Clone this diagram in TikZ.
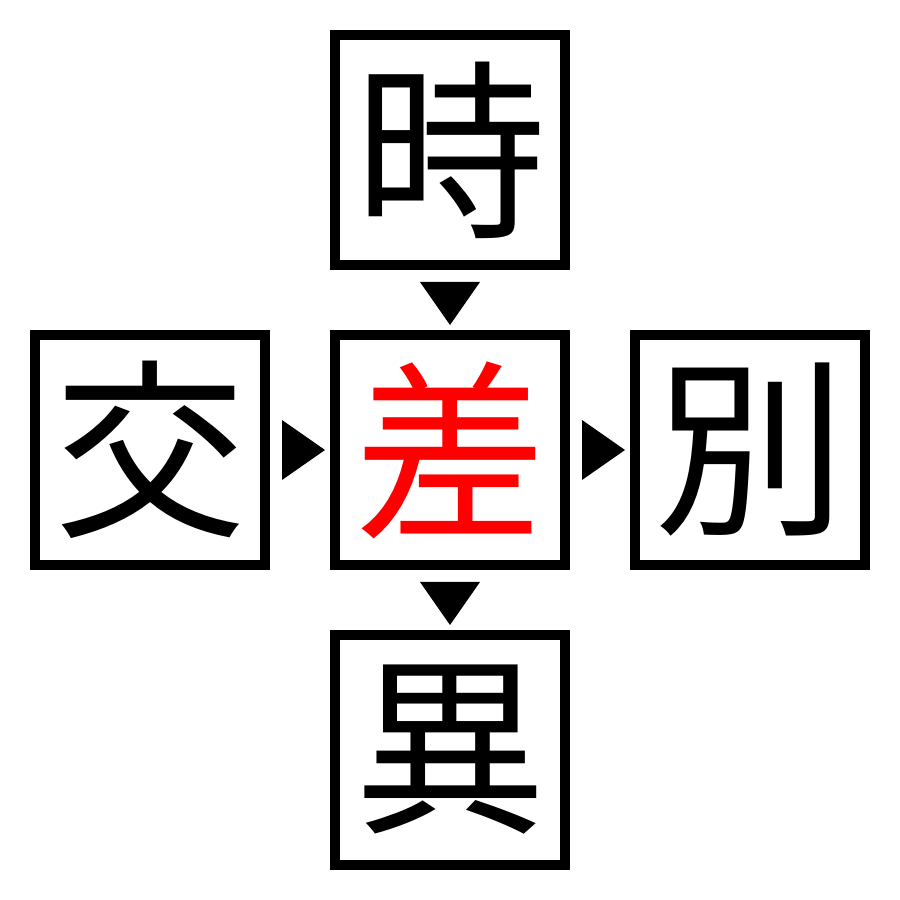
\documentclass[tikz,border=0pt]{standalone}
\usepackage{fontspec}
\newfontfamily\cjk{Noto Sans CJK JP}
\begin{document}
\begin{tikzpicture}[x=1pt,y=1pt,
  kbox/.style={draw=black,line width=10pt,minimum size=230pt,inner sep=0pt,
    font=\cjk\fontsize{192}{192}\selectfont},
  tri/.style={fill=black}]
\useasboundingbox (0,0) rectangle (900,900);
\node[kbox] (t) at (450,750) {時};
\node[kbox] (l) at (150,450) {交};
\node[kbox,text=red] (c) at (450,450) {差};
\node[kbox] (r) at (750,450) {別};
\node[kbox] (b) at (450,150) {異};
\fill[tri] ([yshift=-12pt]t.south) ++(-30,0) -- ++(60,0) -- ++(-30,-43) -- cycle;
\fill[tri] ([yshift=-12pt]c.south) ++(-30,0) -- ++(60,0) -- ++(-30,-43) -- cycle;
\fill[tri] ([xshift=12pt]l.east) ++(0,30) -- ++(0,-60) -- ++(43,30) -- cycle;
\fill[tri] ([xshift=12pt]c.east) ++(0,30) -- ++(0,-60) -- ++(43,30) -- cycle;
\end{tikzpicture}
\end{document}
